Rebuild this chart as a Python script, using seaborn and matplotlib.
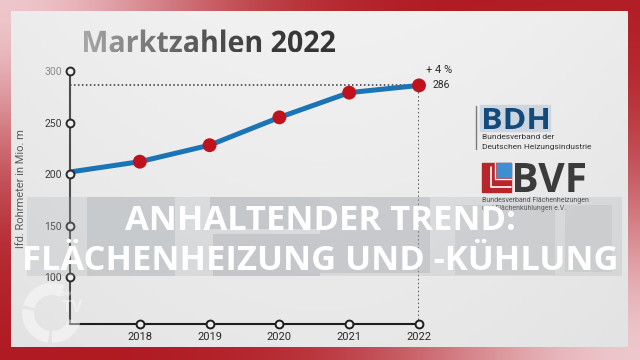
import numpy as np
import matplotlib
matplotlib.use("Agg")
import matplotlib.pyplot as plt
import seaborn as sns
from matplotlib.textpath import TextPath
from matplotlib.patches import PathPatch, Rectangle, Wedge
from matplotlib.font_manager import FontProperties
from matplotlib.colors import LinearSegmentedColormap
from matplotlib.transforms import Affine2D

# data
years = [2017, 2018, 2019, 2020, 2021, 2022]
pipe_m = [202, 212, 228, 255, 279, 286]
x_ticks = [2018, 2019, 2020, 2021, 2022]
y_ticks = [100, 150, 200, 250, 300]
title = "Marktzahlen 2022"
y_label = "lfd. Rohrmeter in Mio. m"
growth_label = "+ 4 %"
headline = ["ANHALTENDER TREND:", "FLÄCHENHEIZUNG UND -KÜHLUNG"]

sns.set_style("white")
plt.rcParams["font.family"] = ["Roboto", "DejaVu Sans"]

W, H = 640, 360
fig = plt.figure(figsize=(6.4, 3.6), dpi=100)


def fy(y):
    # pixel-from-top to overlay coords
    return H - y


def fit_text(ax, s, box, color, family="Open Sans", weight="bold", cmap=None):
    """Draw s as a path squeezed into box=(x0, y0, x1, y1) in pixels from top."""
    tp = TextPath((0, 0), s, size=40, prop=FontProperties(family=family, weight=weight))
    ext = tp.get_extents()
    x0, y0, x1, y1 = box
    sx = (x1 - x0) / ext.width
    sy = (y1 - y0) / ext.height
    tr = Affine2D().translate(-ext.x0, -ext.y0).scale(sx, sy).translate(x0, fy(y1))
    path = tr.transform_path(tp)
    if cmap is None:
        ax.add_patch(PathPatch(path, facecolor=color, edgecolor="none", zorder=6))
    else:
        patch = PathPatch(path, facecolor="none", edgecolor="none")
        ax.add_patch(patch)
        grad = np.linspace(0, 1, 256).reshape(1, -1)
        im = ax.imshow(grad, cmap=cmap, extent=(x0, x1, fy(y1), fy(y0)),
                       aspect="auto", zorder=6)
        im.set_clip_path(patch)


# ---- background: red frame with light panel
bg = fig.add_axes([0, 0, 1, 1])
bg.set_xlim(0, W)
bg.set_ylim(H, 0)
bg.axis("off")
yy, xx = np.mgrid[0:H, 0:W]
d1 = np.hypot(xx / 1.3, yy)
d2 = np.hypot((W - xx) / 1.3, H - yy)
w = np.maximum(np.exp(-(d1 / 170) ** 2), np.exp(-(d2 / 190) ** 2))[..., None]
red = np.array([0.69, 0.10, 0.13])
pink = np.array([0.93, 0.78, 0.80])
bg.imshow(red * (1 - w) + pink * w, extent=(0, W, H, 0), aspect="auto", zorder=0)
gy = np.linspace(0, 1, 100)[:, None]
gx = np.linspace(-1, 1, 100)[None, :]
panel = 0.945 - 0.035 * gy - 0.02 * gx ** 2
bg.imshow(np.dstack([panel] * 3), extent=(11, 628, 347, 11), aspect="auto", zorder=1)

# ---- chart
ax = fig.add_axes([70 / W, 36 / H, 349 / W, 253 / H])
ax.patch.set_alpha(0)
ax.set_xlim(years[0], years[-1])
ax.set_ylim(54.5, 300)
for side in ["top", "right"]:
    ax.spines[side].set_visible(False)
ax.spines["left"].set_color("#4d4d4d")
ax.spines["left"].set_linewidth(1.5)
ax.spines["bottom"].set_color("#1e1e1e")
ax.spines["bottom"].set_linewidth(1.5)

ybot = ax.get_ylim()[0]
dots = (0, (1, 1.6))
ax.plot([years[0], years[-1]], [pipe_m[-1]] * 2, ls=dots, color="#333333", lw=1.1, zorder=2)
ax.plot([years[-1]] * 2, [ybot, pipe_m[-1]], ls=dots, color="#333333", lw=1.1, zorder=2)

sns.lineplot(x=years, y=pipe_m, ax=ax, color="#1b74b5", lw=3.6, zorder=3, clip_on=False)
sns.scatterplot(x=years[1:], y=pipe_m[1:], ax=ax, color="#c0121c", s=100,
                edgecolor="none", zorder=5, clip_on=False)

# open circle ticks
ax.scatter([years[0]] * len(y_ticks), y_ticks, s=32, facecolor="#efefef",
           edgecolor="#2a2a2a", lw=1.4, zorder=4, clip_on=False)
ax.scatter(x_ticks, [ybot] * len(x_ticks), s=32, facecolor="#efefef",
           edgecolor="#1e1e1e", lw=1.4, zorder=4, clip_on=False)

ax.set_yticks(y_ticks)
ax.set_xticks(x_ticks)
ax.set_yticklabels([str(v) for v in y_ticks], fontsize=7.5, color="#3a3a3a")
ax.set_xticklabels([str(v) for v in x_ticks], fontsize=8, color="#2a2a2a")
ax.get_yticklabels()[-1].set_color("#8a8a8a")
ax.tick_params(axis="y", length=0, pad=6)
ax.tick_params(axis="x", length=0, pad=6)
ax.set_xlabel("")
ax.set_ylabel("")
ax.grid(False)

ax.annotate(growth_label, (years[-1], pipe_m[-1]), xytext=(5, 11.3),
            textcoords="offset points", ha="left", va="center",
            fontsize=8, color="#2a2a2a")
ax.annotate(str(pipe_m[-1]), (years[-1], pipe_m[-1]), xytext=(10, 0),
            textcoords="offset points", ha="left", va="center",
            fontsize=7.5, color="#2a2a2a")

fig.text(21 / W, 1 - 189 / H, y_label, rotation=90, ha="center", va="center",
         fontsize=8, color="#5a5a5a")

# ---- overlay: title, logos, headline
ov = fig.add_axes([0, 0, 1, 1])
ov.set_xlim(0, W)
ov.set_ylim(0, H)
ov.axis("off")
ov.patch.set_alpha(0)

title_cmap = LinearSegmentedColormap.from_list(
    "t", ["#a6a6a6", "#7a7a7a", "#505050", "#3a3a3a", "#333333"])
fit_text(ov, title, (84, 29.5, 335, 52.5), None, family="Open Sans", cmap=title_cmap)

# BDH logo
ov.add_patch(Rectangle((480, fy(131)), 70, 26, color="#cdd6e0", zorder=5))
ov.plot([476, 476], [fy(106), fy(149)], color="#7a7a7a", lw=1, zorder=5)
fit_text(ov, "BDH", (484, 108, 548, 129), "#134a7c")
ov.text(482, fy(137), "Bundesverband der", fontsize=6, color="#333333",
        va="center", ha="left", zorder=6)
ov.text(482, fy(147), "Deutschen Heizungsindustrie", fontsize=6, color="#333333",
        va="center", ha="left", zorder=6)

# BVF logo
ov.add_patch(Rectangle((482, fy(192)), 29, 29, color="#b8262c", zorder=5))
ov.add_patch(Rectangle((497, fy(177)), 14, 14, color="#3d8fd1", zorder=5))
ov.plot([491, 491, 511], [fy(167), fy(187), fy(187)], color="white", lw=1.2, zorder=5)
ov.plot([495, 495, 511], [fy(163), fy(179), fy(179)], color="white", lw=1.0, zorder=5)
fit_text(ov, "BVF", (515, 163, 585, 192), "#3b3b3b")
ov.text(482, fy(201), "Bundesverband Flächenheizungen", fontsize=5, color="#333333",
        va="center", ha="left", zorder=6)
ov.text(482, fy(209), "und Flächenkühlungen e.V.", fontsize=5, color="#333333",
        va="center", ha="left", zorder=6)

# glitch blocks behind the headline
blocks = [
    (27, 197, 622, 276, "#a9adb2", 0.25),
    (87, 197, 175, 276, "#8f959c", 0.22),
    (210, 197, 320, 229, "#8a9098", 0.25),
    (213, 234, 320, 276, "#8a9098", 0.25),
    (320, 197, 430, 273, "#8a9098", 0.22),
    (455, 205, 555, 275, "#9aa0a6", 0.18),
    (565, 205, 612, 272, "#9aa0a6", 0.18),
]
for x0, y0, x1, y1, c, a in blocks:
    ov.add_patch(Rectangle((x0, fy(y1)), x1 - x0, y1 - y0, color=c, alpha=a,
                           lw=0, zorder=7))

# faint watermark
for t1, t2 in [(65, 165), (172, 262), (270, 340)]:
    ov.add_patch(Wedge((52, fy(313)), 30, t1, t2, width=12, color="white",
                       alpha=0.45, lw=0, zorder=7))
ov.text(72, fy(307), "TV", fontsize=12, fontweight="bold", color="white",
        alpha=0.4, ha="center", va="center", zorder=7)
ov.text(66, fy(294), "SHK", fontsize=5.5, fontweight="bold", color="white",
        alpha=0.4, ha="center", va="center", zorder=7)

ov.text(320, fy(230), headline[0], fontsize=24.8, fontweight="bold",
        family=["Open Sans", "DejaVu Sans"], color="white", ha="center",
        va="baseline", zorder=8)
ov.text(320, fy(270), headline[1], fontsize=24.8, fontweight="bold",
        family=["Open Sans", "DejaVu Sans"], color="white", ha="center",
        va="baseline", zorder=8)

fig.savefig("out.png", dpi=100)
